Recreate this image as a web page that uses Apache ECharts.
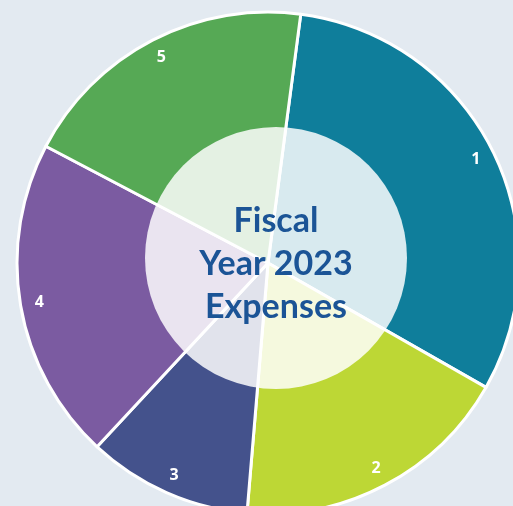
<!DOCTYPE html>
<html>
<head>
<meta charset="utf-8">
<script src="https://cdn.jsdelivr.net/npm/echarts@6/dist/echarts.min.js"></script>
<style>
html,body{margin:0;padding:0;background:#e3eaf1;}
#c{width:513px;height:506px;}
</style>
</head>
<body>
<div id="c"></div>
<script>
const categories = ['1', '2', '3', '4', '5'];
const values = [31.2, 18.1, 10.6, 20.8, 19.4];
const colors = ['#0f7e9b', '#bdd735', '#44528c', '#7b5ba1', '#56a955'];
const centerTitle = 'Fiscal\nYear 2023\nExpenses';

const data = categories.map((c, i) => ({ name: c, value: values[i], itemStyle: { color: colors[i] } }));

const chart = echarts.init(document.getElementById('c'));
chart.setOption({
  backgroundColor: '#e3eaf1',
  animation: false,
  series: [
    {
      type: 'pie',
      center: [268, 263],
      radius: [0, 251],
      startAngle: 82.5,
      clockwise: true,
      silent: true,
      itemStyle: { borderColor: '#ffffff', borderWidth: 3 },
      label: { show: false },
      labelLine: { show: false },
      data: data,
      z: 1
    },
    {
      type: 'pie',
      center: [276, 258],
      radius: [0, 131],
      silent: true,
      label: { show: false },
      labelLine: { show: false },
      itemStyle: { color: 'rgba(255,255,255,0.84)', borderWidth: 0 },
      data: [{ name: 'overlay', value: 1 }],
      z: 2
    },
    {
      type: 'pie',
      center: [268, 263],
      radius: [214, 244],
      startAngle: 82.5,
      clockwise: true,
      silent: true,
      itemStyle: { color: 'transparent', borderWidth: 0 },
      label: {
        show: true,
        position: 'inside',
        formatter: '{b}',
        color: '#ffffff',
        fontSize: 16,
        fontWeight: 'bold',
        fontFamily: 'Open Sans'
      },
      labelLine: { show: false },
      data: categories.map((c, i) => ({ name: c, value: values[i] })),
      z: 3
    }
  ],
  graphic: [
    {
      type: 'text',
      x: 276,
      y: 264,
      z: 10,
      silent: true,
      style: {
        text: centerTitle,
        textAlign: 'center',
        textVerticalAlign: 'middle',
        fontFamily: 'Lato',
        fontWeight: 'bold',
        fontSize: 34,
        lineHeight: 43,
        fill: '#1b5496'
      }
    }
  ]
});
</script>
</body>
</html>
